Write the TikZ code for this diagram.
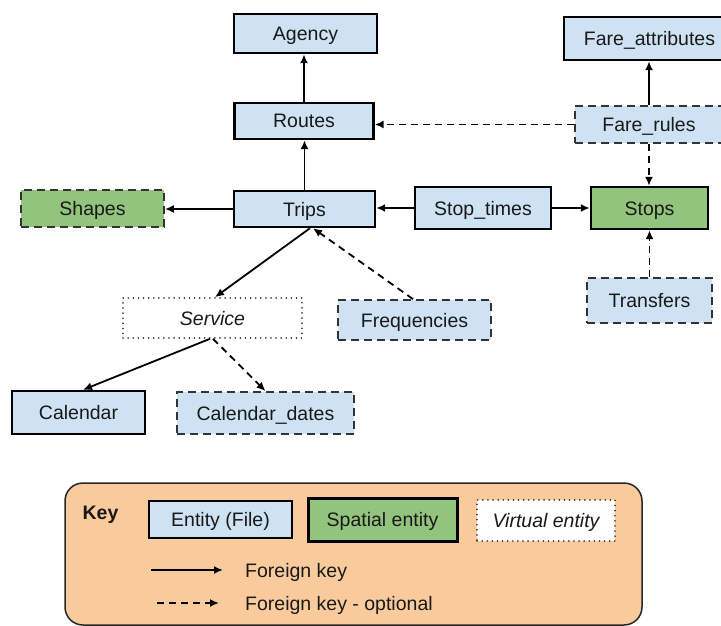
\documentclass[tikz,border=0pt]{standalone}
\usepackage{fontspec}
\setmainfont{Liberation Sans}
\usetikzlibrary{arrows.meta}
\definecolor{entblue}{HTML}{CFE2F3}
\definecolor{spgreen}{HTML}{93C47D}
\definecolor{keyorange}{HTML}{F9CB9C}
\begin{document}
\begin{tikzpicture}[x=1pt,y=-1pt,
  base/.style={rectangle, inner sep=0pt, font=\fontsize{19.5}{23}\selectfont, text=black!90, text height=14pt, text depth=0pt},
  entity/.style={base, fill=entblue, draw=black, line width=2.4pt},
  spatial/.style={base, fill=spgreen, draw=black, line width=2.4pt},
  optentity/.style={base, fill=entblue, draw=black!80, line width=1.8pt, dash pattern=on 8pt off 5pt},
  optspatial/.style={base, fill=spgreen, draw=black!80, line width=1.8pt, dash pattern=on 8pt off 5pt},
  virtual/.style={base, fill=white, draw=black!80, line width=1.6pt, dash pattern=on 0.1pt off 5pt, line cap=round, font=\fontsize{19.5}{23}\selectfont\itshape},
  fk/.style={-{Latex[length=9pt,width=8pt]}, line width=1.8pt},
  fkopt/.style={fk, dash pattern=on 7pt off 5pt},
  plain/.style={inner sep=0pt, font=\fontsize{19.5}{23}\selectfont, text=black!90, text height=14pt, text depth=0pt},
]
\useasboundingbox (0,0) rectangle (721,626);

% entities
\node[entity, minimum width=143, minimum height=39] (agency) at (305.5,33.5) {Agency};
\node[entity, minimum width=139, minimum height=36] (routes) at (304,121) {Routes};
\node[entity, minimum width=141, minimum height=36] (trips) at (304.5,209) {Trips};
\node[optspatial, minimum width=143, minimum height=37] (shapes) at (92.5,208.5) {Shapes};
\node[entity, minimum width=171, minimum height=43] (fareattr) at (649.5,38.5) {Fare\_attributes};
\node[optentity, minimum width=148, minimum height=37] (farerules) at (649,124.5) {Fare\_rules};
\node[entity, minimum width=136, minimum height=42] (stoptimes) at (483,208) {Stop\_times};
\node[spatial, minimum width=117, minimum height=42] (stops) at (649.5,208) {Stops};
\node[optentity, minimum width=125, minimum height=45] (transfers) at (649.5,300.5) {Transfers};
\node[optentity, minimum width=153, minimum height=40] (freq) at (414.5,320) {Frequencies};
\node[virtual, minimum width=179, minimum height=40] (service) at (212.5,318) {Service};
\node[entity, minimum width=133, minimum height=43] (calendar) at (78.5,412.5) {Calendar};
\node[optentity, minimum width=177, minimum height=42] (caldates) at (265.5,413) {Calendar\_dates};

% connectors
\draw[fk] (routes.north) -- (routes.north |- agency.south);
\draw[fk] (trips.north) -- (trips.north |- routes.south);
\draw[fk] (trips.west) -- (trips.west -| shapes.east);
\draw[fk] (stoptimes.west) -- (stoptimes.west -| trips.east);
\draw[fk] (stoptimes.east) -- (stoptimes.east -| stops.west);
\draw[fk] (farerules.north) -- (farerules.north |- fareattr.south);
\draw[fkopt] (farerules.west) -- (farerules.west -| routes.east);
\draw[fkopt] (farerules.south) -- (farerules.south |- stops.north);
\draw[fkopt] (transfers.north) -- (transfers.north |- stops.south);
\draw[fk] ([xshift=5.5pt]trips.south) -- ([xshift=2.5pt]service.north);
\draw[fkopt] ([xshift=-1.5pt]freq.north) -- ([xshift=8.5pt]trips.south);
\draw[fk] ([xshift=-2.5pt]service.south) -- ([xshift=4.5pt]calendar.north);
\draw[fkopt] ([xshift=0.5pt]service.south) -- (caldates.north);

% key
\node[draw=black!85, fill=keyorange, rounded corners=18pt, line width=1.5pt, minimum width=577, minimum height=142, inner sep=0pt] (keybox) at (353.5,554) {};
\node[plain, font=\fontsize{19.5}{23}\selectfont\bfseries] (keylbl) at (100.5,512) {Key};
\node[entity, minimum width=143, minimum height=37] (legent) at (220.5,519.5) {Entity (File)};
\node[spatial, line width=3pt, minimum width=149, minimum height=43] (legsp) at (382.5,519.5) {Spatial entity};
\node[virtual, minimum width=138, minimum height=41] (legvirt) at (546,520.5) {Virtual entity};
\coordinate (fks) at (151,570);
\coordinate (fke) at (223,570);
\coordinate (fos) at (157,603);
\coordinate (foe) at (219,603);
\draw[fk] (fks) -- (fke);
\draw[fkopt] (fos) -- (foe);
\node[plain, anchor=west] (fktxt) at (245,570) {Foreign key};
\node[plain, anchor=west] (fotxt) at (245,603) {Foreign key - optional};
\end{tikzpicture}
\end{document}
